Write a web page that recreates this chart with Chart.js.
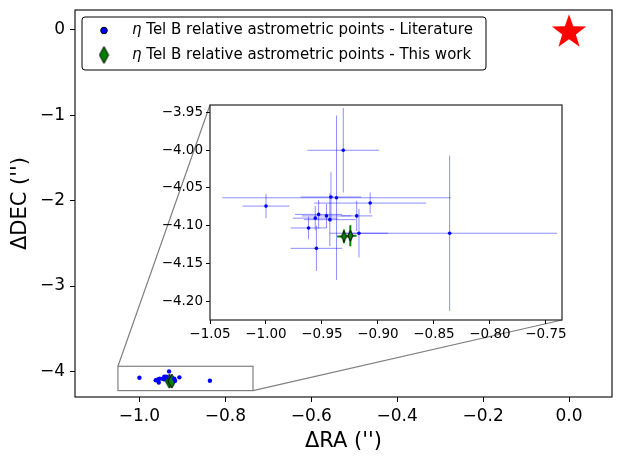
<!DOCTYPE html>
<html>
<head>
<meta charset="utf-8">
<script src="https://cdn.jsdelivr.net/npm/chart.js@4.4.1/dist/chart.umd.min.js"></script>
<style>
  html, body { margin: 0; padding: 0; background: #fff; }
  #wrap { position: relative; width: 623px; height: 464px; }
  #main { position: absolute; left: 0; top: 0; }
  #inset { position: absolute; left: 140px; top: 95px; }
</style>
</head>
<body>
<div id="wrap">
  <canvas id="main" width="623" height="464" style="width:623px;height:464px"></canvas>
  <canvas id="inset" width="440" height="255" style="width:440px;height:255px"></canvas>
</div>
<script>
// eta Tel B relative astrometry, offsets in arcsec
const litRA     = [-1.000, -0.931, -0.942, -0.937, -0.907, -0.953, -0.956, -0.946, -0.943, -0.919, -0.962, -0.955, -0.917, -0.836]
const litDEC    = [-4.074, -4.000, -4.062, -4.063, -4.070, -4.085, -4.090, -4.087, -4.092, -4.087, -4.103, -4.130, -4.110, -4.110]
const litRAerr  = [0.021, 0.032, 0.027, 0.102, 0.050, 0.021, 0.020, 0.022, 0.023, 0.014, 0.016, 0.023, 0.026, 0.096]
const litDECerr = [0.016, 0.056, 0.033, 0.109, 0.014, 0.019, 0.016, 0.016, 0.035, 0.020, 0.015, 0.030, 0.032, 0.103]

const newRA     = [-0.9304, -0.9247]
const newDEC    = [-4.1142, -4.1133]
const newRAerr  = [0.006, 0.0055]
const newDECerr = [0.009, 0.014]

const starRA  = [0]
const starDEC = [0]

const litLabel = 'η Tel B relative astrometric points - Literature'
const newLabel = 'η Tel B relative astrometric points - This work'

// axis limits and ticks
const mainRALim  = [-1.15, 0.1]
const mainDECLim = [-4.30, 0.234]
const mainRATicks  = [-1.0, -0.8, -0.6, -0.4, -0.2, 0.0]
const mainDECTicks = [0, -1, -2, -3, -4]

const insetRALim  = [-1.05, -0.7357]
const insetDECLim = [-4.225, -3.94]
const insetRATicks  = [-1.05, -1.00, -0.95, -0.90, -0.85, -0.80, -0.75]
const insetDECTicks = [-3.95, -4.00, -4.05, -4.10, -4.15, -4.20]

Chart.defaults.font.family = 'DejaVu Sans'
Chart.defaults.color = '#000'

const fmt = (v, d) => (v < -1e-9 ? '\u2212' : '') + Math.abs(v).toFixed(d)

// marker images
function diamond(w, h) {
  const c = document.createElement('canvas')
  c.width = w + 2; c.height = h + 2
  const g = c.getContext('2d')
  g.beginPath()
  g.moveTo(c.width / 2, 1)
  g.lineTo(c.width - 1, c.height / 2)
  g.lineTo(c.width / 2, c.height - 1)
  g.lineTo(1, c.height / 2)
  g.closePath()
  g.fillStyle = '#008000'
  g.fill()
  g.lineWidth = 1
  g.strokeStyle = '#000'
  g.stroke()
  return c
}
function star(size) {
  const c = document.createElement('canvas')
  c.width = size; c.height = size
  const g = c.getContext('2d')
  const cx = size / 2, cy = size / 2 + size * 0.06, R = size / 2, r = R * 0.4
  g.beginPath()
  for (let i = 0; i < 10; i++) {
    const a = -Math.PI / 2 + i * Math.PI / 5
    const rr = i % 2 ? r : R
    g.lineTo(cx + rr * Math.cos(a), cy + rr * Math.sin(a))
  }
  g.closePath()
  g.fillStyle = '#ff0000'
  g.fill()
  return c
}

const pts = (xs, ys) => xs.map((x, i) => ({ x: x, y: ys[i] }))

// no extra room for the edge labels, layout padding alone places the plot box
const noPad = s => { s.paddingTop = 0; s.paddingBottom = 0; s.paddingLeft = 0; s.paddingRight = 0 }

function axis(lim, ticks, dec, size, tickLen, pad, fit) {
  return {
    type: 'linear',
    min: lim[0],
    max: lim[1],
    afterBuildTicks: s => { s.ticks = ticks.map(v => ({ value: v })) },
    afterFit: s => { fit(s); noPad(s) },
    grid: { drawOnChartArea: false, drawTicks: true, tickLength: tickLen, tickColor: '#000', tickWidth: 1 },
    border: { display: false },
    ticks: { font: { size: size }, padding: pad, maxRotation: 0, autoSkip: false, callback: v => fmt(v, dec) }
  }
}

// inset: zoom on the companion
const errorBars = {
  id: 'errorBars',
  beforeDatasetsDraw(chart) {
    const { ctx, chartArea: a, scales: { x, y } } = chart
    ctx.save()
    ctx.beginPath()
    ctx.rect(a.left, a.top, a.right - a.left, a.bottom - a.top)
    ctx.clip()
    const bars = (xs, ys, xe, ye, color, lw) => {
      ctx.strokeStyle = color
      ctx.lineWidth = lw
      xs.forEach((v, i) => {
        const px = x.getPixelForValue(v), py = y.getPixelForValue(ys[i])
        ctx.beginPath()
        ctx.moveTo(x.getPixelForValue(v - xe[i]), py)
        ctx.lineTo(x.getPixelForValue(v + xe[i]), py)
        ctx.moveTo(px, y.getPixelForValue(ys[i] - ye[i]))
        ctx.lineTo(px, y.getPixelForValue(ys[i] + ye[i]))
        ctx.stroke()
      })
    }
    bars(litRA, litDEC, litRAerr, litDECerr, 'rgba(0,0,255,0.45)', 1)
    bars(newRA, newDEC, newRAerr, newDECerr, '#008000', 2)
    ctx.restore()
  }
}
const boxPlugin = {
  id: 'box',
  beforeDraw(chart) {
    const { ctx, chartArea: a } = chart
    ctx.save()
    ctx.fillStyle = '#fff'
    ctx.fillRect(a.left, a.top, a.right - a.left, a.bottom - a.top)
    ctx.restore()
  },
  afterDraw(chart) {
    const { ctx, chartArea: a } = chart
    ctx.save()
    ctx.strokeStyle = '#222'
    ctx.lineWidth = 1.2
    ctx.strokeRect(a.left, a.top, a.right - a.left, a.bottom - a.top)
    ctx.restore()
  }
}

const insetChart = new Chart(document.getElementById('inset'), {
  type: 'scatter',
  data: {
    datasets: [
      { label: litLabel, data: pts(litRA, litDEC), backgroundColor: '#0000ff', borderWidth: 0, pointRadius: 1.8 },
      { label: newLabel, data: pts(newRA, newDEC), pointStyle: diamond(5, 11), pointRadius: 6 }
    ]
  },
  options: {
    responsive: false,
    animation: false,
    events: [],
    layout: { autoPadding: false, padding: { top: 10, right: 18, left: 0, bottom: 0 } },
    plugins: { legend: { display: false }, tooltip: { enabled: false } },
    scales: {
      x: axis(insetRALim, insetRATicks, 2, 13.5, 4, 2, s => { s.height = 30 }),
      y: axis(insetDECLim, insetDECTicks, 2, 13.5, 4, 3, s => { s.width = 70 })
    }
  },
  plugins: [boxPlugin, errorBars]
})

// main panel
const insetLeft = 140, insetTop = 95

const decor = {
  id: 'decor',
  beforeDatasetsDraw(chart) {
    const { ctx, scales: { x, y } } = chart
    const x0 = x.getPixelForValue(insetRALim[0]), x1 = x.getPixelForValue(insetRALim[1])
    const y0 = y.getPixelForValue(insetDECLim[1]), y1 = y.getPixelForValue(insetDECLim[0])
    const ia = insetChart.chartArea
    ctx.save()
    ctx.strokeStyle = '#808080'
    ctx.lineWidth = 1.2
    ctx.strokeRect(x0, y0, x1 - x0, y1 - y0)
    ctx.beginPath()
    ctx.moveTo(x0, y0)
    ctx.lineTo(insetLeft + ia.left, insetTop + ia.top)
    ctx.moveTo(x1, y1)
    ctx.lineTo(insetLeft + ia.right, insetTop + ia.bottom)
    ctx.stroke()
    ctx.restore()
  },
  afterDraw(chart) {
    const { ctx, chartArea: a } = chart
    ctx.save()
    ctx.strokeStyle = '#000'
    ctx.lineWidth = 1.1
    ctx.strokeRect(a.left, a.top, a.right - a.left, a.bottom - a.top)

    // legend
    const bx = 82, by = 17, bw = 404, bh = 53
    ctx.beginPath()
    ctx.roundRect(bx, by, bw, bh, 3)
    ctx.fillStyle = '#fff'
    ctx.fill()
    ctx.lineWidth = 1
    ctx.strokeStyle = '#000'
    ctx.stroke()

    const rows = [{ y: 30.5, label: litLabel }, { y: 55, label: newLabel }]
    ctx.beginPath()
    ctx.arc(104, rows[0].y, 3.3, 0, Math.PI * 2)
    ctx.fillStyle = '#0000ff'
    ctx.fill()
    ctx.strokeStyle = '#000'
    ctx.lineWidth = 1
    ctx.stroke()
    const d = diamond(9, 17)
    ctx.drawImage(d, 104 - d.width / 2, rows[1].y - d.height / 2)

    ctx.fillStyle = '#000'
    ctx.textBaseline = 'middle'
    rows.forEach(r => {
      ctx.font = 'italic 15px "DejaVu Sans"'
      const eta = r.label.slice(0, 1)
      ctx.fillText(eta, 132, r.y)
      const w = ctx.measureText(eta).width
      ctx.font = '15px "DejaVu Sans"'
      ctx.fillText(r.label.slice(1), 132 + w, r.y)
    })
    ctx.restore()
  }
}

const mainX = axis(mainRALim, mainRATicks, 1, 17, 5, 4, s => { s.height = 67 })
mainX.title = { display: true, text: "ΔRA ('')", font: { size: 21 }, padding: { top: 0, bottom: 10 } }
const mainY = axis(mainDECLim, mainDECTicks, 0, 17, 5, 5, s => { s.width = 75 })
mainY.title = { display: true, text: "ΔDEC ('')", font: { size: 21 }, padding: { top: 8, bottom: 0 } }

new Chart(document.getElementById('main'), {
  type: 'scatter',
  data: {
    datasets: [
      { label: litLabel, data: pts(litRA, litDEC), backgroundColor: '#0000ff', borderWidth: 0, pointRadius: 2.2 },
      { label: newLabel, data: pts(newRA, newDEC), pointStyle: diamond(8, 14), pointRadius: 7 },
      { label: 'eta Tel A', data: pts(starRA, starDEC), pointStyle: star(36), pointRadius: 18 }
    ]
  },
  options: {
    responsive: false,
    animation: false,
    events: [],
    layout: { autoPadding: false, padding: { top: 10, right: 11, left: 0, bottom: 0 } },
    plugins: { legend: { display: false }, tooltip: { enabled: false } },
    scales: { x: mainX, y: mainY }
  },
  plugins: [decor]
})
</script>
</body>
</html>
